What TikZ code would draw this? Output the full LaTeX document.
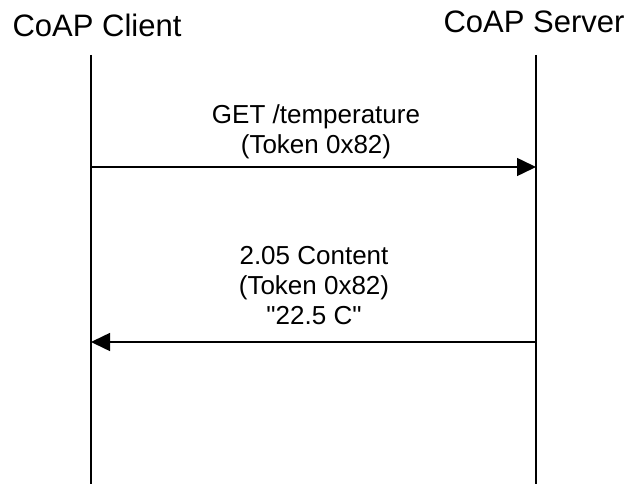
\documentclass[tikz,border=0pt]{standalone}
\usepackage{fontspec}
\setmainfont{Liberation Sans}
\usetikzlibrary{arrows.meta}

\tikzset{
  party/.style={anchor=base, inner sep=0pt, font=\fontsize{31}{36}\selectfont},
  msgtext/.style={anchor=base, inner sep=0pt, font=\fontsize{26}{30}\selectfont},
  lifeline/.style={line width=1.5pt, draw=black},
  message/.style={line width=1.5pt, draw=black,
    -{Triangle[length=19pt, width=18pt]}},
}

\begin{document}
\begin{tikzpicture}[x=1pt, y=-1pt]
  \useasboundingbox (0,0) rectangle (631,484);

  % participants
  \node[party] (client) at (97,37) {CoAP Client};
  \node[party] (server) at (534,33) {CoAP Server};

  % lifelines
  \coordinate (ctop) at (91,55);
  \coordinate (cbot) at (91,484);
  \coordinate (stop) at (536,55);
  \coordinate (sbot) at (536,484);
  \draw[lifeline] (ctop) -- (cbot);
  \draw[lifeline] (stop) -- (sbot);

  % request
  \coordinate (req-c) at (91,167);
  \coordinate (req-s) at (536,167);
  \draw[message] (req-c) -- (req-s);
  \node[msgtext] (req1) at (316,123) {GET /temperature};
  \node[msgtext] (req2) at (316,153) {(Token 0x82)};

  % response
  \coordinate (rsp-s) at (536,342);
  \coordinate (rsp-c) at (91,342);
  \draw[message] (rsp-s) -- (rsp-c);
  \node[msgtext] (rsp1) at (314,264) {2.05 Content};
  \node[msgtext] (rsp2) at (314,294) {(Token 0x82)};
  \node[msgtext] (rsp3) at (314,324) {\textquotedbl 22.5 C\textquotedbl};
\end{tikzpicture}
\end{document}
